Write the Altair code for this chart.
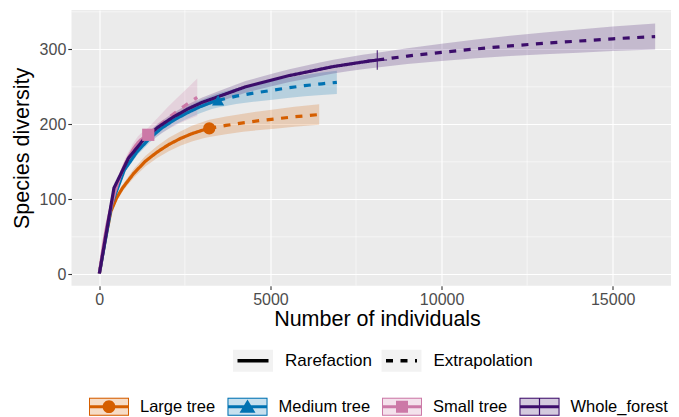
import altair as alt
import pandas as pd

groups = ["Large tree", "Medium tree", "Small tree", "Whole_forest"]
colors = ["#D55E00", "#0072B2", "#CC79A7", "#3C0D6B"]
methods = ["Rarefaction", "Extrapolation"]

# ---- Large tree ----
large_rare_x = [1, 169, 338, 507, 676, 845, 1014, 1352, 1690, 2028, 2366, 2704, 3042, 3212]
large_rare_y = [1, 45, 84, 102, 115, 125, 135, 151, 163, 173, 181, 187.5, 192.5, 194.6]
large_rare_lo = [1, 43.5, 81.5, 98.5, 110.5, 120, 129, 144, 155, 164, 171.5, 177, 181.5, 183.1]
large_rare_hi = [1, 46.5, 86.5, 105.5, 119.5, 130, 141, 158, 171, 182, 190.5, 198, 203.5, 206.1]
large_ext_x = [3212, 3700, 4200, 4700, 5200, 5700, 6424]
large_ext_y = [194.6, 198.5, 202, 205, 207.5, 210, 213]
large_ext_lo = [183.1, 186.7, 190, 192.5, 194.5, 196.7, 199.3]
large_ext_hi = [206.1, 210.3, 214, 217.5, 220.5, 223.3, 226.7]

# ---- Medium tree ----
medium_rare_x = [1, 365, 730, 1096, 1461, 1826, 2192, 2557, 2922, 3288, 3470]
medium_rare_y = [1, 94, 139, 163, 181, 195, 206, 215, 223, 229.5, 232]
medium_rare_lo = [1, 92, 135.5, 158.5, 175.5, 188.5, 199, 207, 214.5, 220.5, 222.5]
medium_rare_hi = [1, 96, 142.5, 167.5, 186.5, 201.5, 213, 223, 231.5, 238.5, 241.5]
medium_ext_x = [3470, 4000, 4500, 5000, 5500, 6000, 6500, 6940]
medium_ext_y = [232, 237.5, 241.5, 245, 248.5, 251.5, 254, 256]
medium_ext_lo = [222.5, 227, 230, 232.5, 235, 237.3, 239, 240.5]
medium_ext_hi = [241.5, 248, 253, 257.5, 262, 265.7, 269, 271.5]

# ---- Small tree ----
small_rare_x = [1, 75, 150, 226, 301, 376, 452, 527, 602, 678, 753, 828, 904, 979, 1054, 1130, 1205, 1280, 1355, 1430]
small_rare_y = [1, 25, 47, 66, 82, 96, 109, 120, 130, 139, 147, 154, 160, 166, 171, 175.5, 179, 181.5, 184, 186]
small_rare_lo = [1, 23.5, 44, 62, 77.5, 91, 103.5, 114, 123.5, 132, 140, 146.5, 152.5, 158, 163, 167, 170.5, 172.5, 175, 176.5]
small_rare_hi = [1, 26.5, 50, 70, 86.5, 101, 114.5, 126, 136.5, 146, 154, 161.5, 167.5, 174, 179, 184, 187.5, 190.5, 193, 195.5]
small_ext_x = [1430, 1700, 2000, 2300, 2600, 2860]
small_ext_y = [186, 196.5, 208, 218.5, 228, 236]
small_ext_lo = [176.5, 184.5, 193, 200.5, 206.5, 211]
small_ext_hi = [195.5, 208.5, 223, 236.5, 249.5, 261]

# ---- Whole forest ----
whole_rare_x = [1, 427, 855, 1282, 1709, 2137, 2564, 2991, 3419, 3846, 4273, 4700, 5128, 5555, 5982, 6410, 6837, 7264, 7692, 8120]
whole_rare_y = [1, 115, 155, 179, 196, 209, 220, 229, 236, 243, 250, 255, 260, 265, 269, 273, 277, 280, 283, 285.7]
whole_rare_lo = [1, 113.5, 152, 175, 191, 203.5, 214, 222.5, 229, 235.5, 242.2, 247, 251.7, 256.5, 260.2, 264, 267.8, 270.6, 273.4, 275.9]
whole_rare_hi = [1, 116.5, 158, 183, 201, 214.5, 226, 235.5, 243, 250.5, 257.8, 263, 268.3, 273.5, 277.8, 282, 286.2, 289.4, 292.6, 295.5]
whole_ext_x = [8120, 9000, 10000, 11000, 12000, 13000, 14000, 15000, 16240]
whole_ext_y = [285.7, 291, 296, 300.5, 304.5, 308, 311, 314, 317]
whole_ext_lo = [275.9, 280.5, 284.5, 288, 291, 293.5, 295.5, 297.7, 299.7]
whole_ext_hi = [295.5, 301.5, 307.5, 313, 318, 322.5, 326.5, 330.3, 334.3]

# observed points
obs_x = [3212, 3470, 1430, 8120]
obs_y = [194.6, 232, 186, 285.7]

x_ticks = [0, 5000, 10000, 15000]
y_ticks = [0, 100, 200, 300]
x_minor = [2500, 7500, 12500]
y_minor = [50, 150, 250, 350]

series = [
    ("Large tree", large_rare_x, large_rare_y, large_rare_lo, large_rare_hi,
     large_ext_x, large_ext_y, large_ext_lo, large_ext_hi),
    ("Medium tree", medium_rare_x, medium_rare_y, medium_rare_lo, medium_rare_hi,
     medium_ext_x, medium_ext_y, medium_ext_lo, medium_ext_hi),
    ("Small tree", small_rare_x, small_rare_y, small_rare_lo, small_rare_hi,
     small_ext_x, small_ext_y, small_ext_lo, small_ext_hi),
    ("Whole_forest", whole_rare_x, whole_rare_y, whole_rare_lo, whole_rare_hi,
     whole_ext_x, whole_ext_y, whole_ext_lo, whole_ext_hi),
]

band_rows, line_rows = [], []
for g, rx, ry, rl, rh, ex, ey, el, eh in series:
    for x, y, lo, hi in zip(rx, ry, rl, rh):
        band_rows.append({"grp": g, "x": x, "lo": lo, "hi": hi})
        line_rows.append({"grp": g, "method": "Rarefaction", "x": x, "y": y})
    for i, (x, y, lo, hi) in enumerate(zip(ex, ey, el, eh)):
        if i > 0:
            band_rows.append({"grp": g, "x": x, "lo": lo, "hi": hi})
        line_rows.append({"grp": g, "method": "Extrapolation", "x": x, "y": y})

band_df = pd.DataFrame(band_rows)
line_df = pd.DataFrame(line_rows)
pt_df = pd.DataFrame({"grp": groups, "x": obs_x, "y": obs_y})
xminor_df = pd.DataFrame({"v": x_minor})
yminor_df = pd.DataFrame({"v": y_minor})
leg_grp_df = pd.DataFrame({"grp": groups})
leg_method_df = pd.DataFrame({"method": methods})

FONT = "Liberation Sans"
xdom = [-813, 16703]
ydom = [-15.2, 352.4]
xscale = alt.Scale(domain=xdom, nice=False, zero=False)
yscale = alt.Scale(domain=ydom, nice=False, zero=False)
xaxis = alt.Axis(values=x_ticks, format="d", title="Number of individuals", titlePadding=1, titleX=305.5)
yaxis = alt.Axis(values=y_ticks, format="d", title="Species diversity", titlePadding=6)

# plot marker shapes
plus_path = "M-0.08,-1.6H0.08V1.6H-0.08Z M-1.6,-0.08H1.6V0.08H-1.6Z"
pt_shapes = ["circle", "triangle-up", "square", plus_path]

# legend key shapes (box ring + line + marker)
ring = ("M-1,-0.45H1V-0.4H-1Z M-1,0.4H1V0.45H-1Z "
        "M-1,-0.4H-0.95V0.4H-1Z M0.95,-0.4H1V0.4H0.95Z ")
bar = "M-0.95,-0.075H0.95V0.075H-0.95Z "
key_shapes = [
    ring + bar + "M-0.32,0A0.32,0.32 0 1,1 0.32,0A0.32,0.32 0 1,1 -0.32,0Z",
    ring + bar + "M0,-0.36L0.4,0.3L-0.4,0.3Z",
    ring + bar + "M-0.3,-0.3H0.3V0.3H-0.3Z",
    ring + bar + "M-0.03,-0.4H0.03V0.4H-0.03Z",
]
box_path = "M-1,-0.45H1V0.45H-1Z"
bg_path = "M-1.29,-0.71H1.29V0.71H-1.29Z"
# linetype key: visible line of 31px, invisible corner points so bounds equal the grey box
dash_path = "M-1.29,-0.71L-1.29,-0.71 M-1,0H1 M1.29,0.71L1.29,0.71"

LX1, LY1 = 17.5, 376.7
LX2, LY2 = 164, 333

row1 = dict(orient="none", legendX=LX1, legendY=LY1, direction="horizontal", columns=4,
            title=None, symbolSize=1600, symbolStrokeWidth=0, labelFont=FONT,
            labelFontSize=16.5, labelColor="black", labelOffset=11, columnPadding=11.5, padding=0)
row2 = dict(orient="none", legendX=LX2, legendY=LY2, direction="horizontal", columns=2,
            title=None, symbolSize=961, symbolStrokeWidth=3.5, labelFont=FONT,
            labelFontSize=17, labelColor="black", labelOffset=14.5, columnPadding=1.5, padding=0)

# 1. grey key backgrounds for linetype legend (legend only)
leg_bg = alt.Chart(leg_method_df).mark_point(filled=True, opacity=1).encode(
    shape=alt.Shape("method:N", scale=alt.Scale(domain=methods, range=[bg_path, bg_path]),
                    legend=alt.Legend(symbolStrokeColor="transparent", labelOpacity=0, **row2)),
    fill=alt.Fill("method:N", scale=alt.Scale(domain=methods, range=["#F2F2F2", "#F2F2F2"]),
                  legend=alt.Legend(symbolStrokeColor="transparent", labelOpacity=0, **row2)),
).transform_filter("false")

# 2/3. minor grid lines
minor_x = alt.Chart(xminor_df).mark_rule(color="white", strokeWidth=0.55).encode(
    x=alt.X("v:Q", scale=xscale, axis=xaxis))
minor_y = alt.Chart(yminor_df).mark_rule(color="white", strokeWidth=0.55).encode(
    y=alt.Y("v:Q", scale=yscale, axis=yaxis))

# 4. confidence bands
band = alt.Chart(band_df).mark_area(opacity=0.22).encode(
    x=alt.X("x:Q", scale=xscale, axis=xaxis),
    y=alt.Y("lo:Q", scale=yscale, axis=yaxis),
    y2="hi:Q",
    fill=alt.Fill("grp:N", scale=alt.Scale(domain=groups, range=colors),
                  legend=alt.Legend(symbolType=box_path, symbolOpacity=0.22, labelOpacity=0, **row1)),
)

# 5. curves
lines = alt.Chart(line_df).mark_line(strokeWidth=3.2, strokeCap="butt").encode(
    x=alt.X("x:Q", scale=xscale, axis=xaxis),
    y=alt.Y("y:Q", scale=yscale, axis=yaxis),
    color=alt.Color("grp:N", scale=alt.Scale(domain=groups, range=colors), legend=None),
    strokeDash=alt.StrokeDash("method:N", scale=alt.Scale(domain=methods, range=[[1, 0], [7, 7.5]]),
                              legend=alt.Legend(symbolType=dash_path, symbolStrokeColor="black",
                                                symbolFillColor="transparent", **row2)),
    detail="grp:N",
)

# 6. observed points
points = alt.Chart(pt_df).mark_point(filled=True, size=150, opacity=1).encode(
    x=alt.X("x:Q", scale=xscale, axis=xaxis),
    y=alt.Y("y:Q", scale=yscale, axis=yaxis),
    color=alt.Color("grp:N", scale=alt.Scale(domain=groups, range=colors), legend=None),
    shape=alt.Shape("grp:N", scale=alt.Scale(domain=groups, range=pt_shapes), legend=None),
)

# 7. colour legend keys (legend only)
leg_keys = alt.Chart(leg_grp_df).mark_point(filled=True, opacity=1).encode(
    shape=alt.Shape("grp:N", scale=alt.Scale(domain=groups, range=key_shapes),
                    legend=alt.Legend(symbolOpacity=1, **row1)),
    fill=alt.Fill("grp:N", scale=alt.Scale(domain=groups, range=colors),
                  legend=alt.Legend(symbolOpacity=1, **row1)),
).transform_filter("false")

chart = alt.layer(leg_bg, minor_x, minor_y, band, lines, points, leg_keys).resolve_scale(
    fill="independent", shape="independent", strokeDash="independent"
).resolve_legend(
    fill="independent", shape="independent", strokeDash="independent"
).properties(
    width=599.5, height=275.7,
    autosize=alt.AutoSizeParams(type="none"),
    padding={"left": 63.5, "top": 2, "right": 0, "bottom": 131.3},
    background="white",
).configure_view(
    fill="#EBEBEB", stroke=None
).configure_axis(
    domain=False, grid=True, gridColor="white", gridWidth=1.1,
    tickColor="#333333", tickWidth=1.1, tickSize=3.7,
    labelFont=FONT, labelFontSize=16, labelColor="#4D4D4D", labelPadding=2,
    labelFlush=False, labelOverlap=False,
    titleFont=FONT, titleFontSize=21.5, titleFontWeight="normal", titleColor="black",
)

chart.save("out.html", embed_options={"renderer": "svg", "actions": False})
